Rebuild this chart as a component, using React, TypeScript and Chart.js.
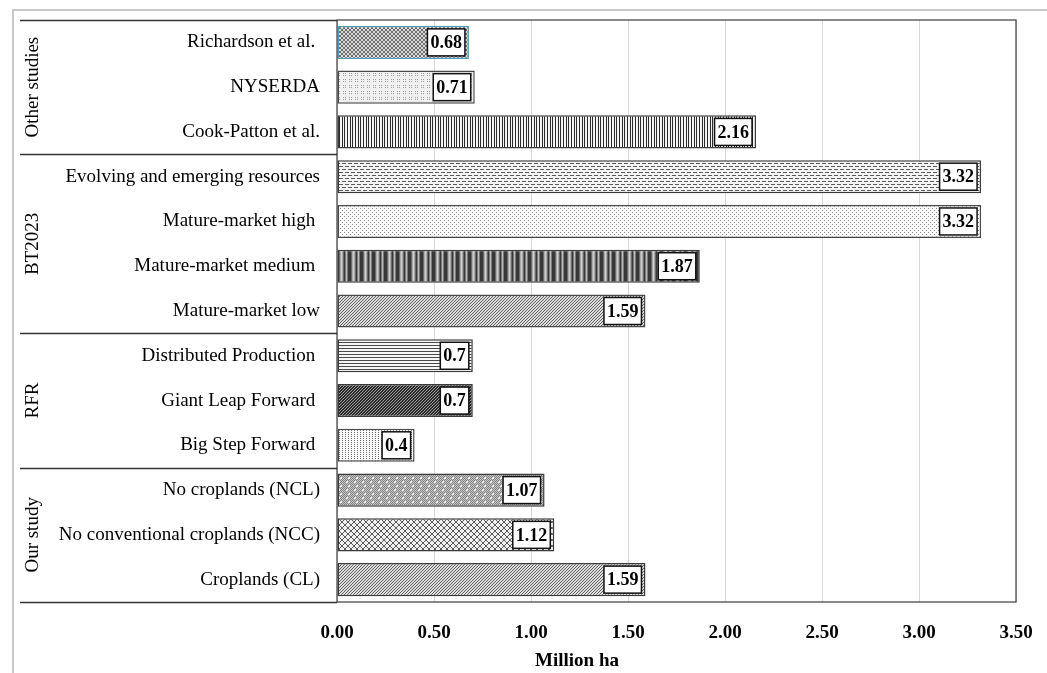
import React, { useEffect, useRef } from 'react';
import { Chart, registerables } from 'chart.js';

Chart.register(...registerables);

// ---------- data ----------
const categories = [
  'Richardson et al. ',
  'NYSERDA',
  'Cook-Patton et al.',
  'Evolving and emerging resources',
  'Mature-market high ',
  'Mature-market medium ',
  'Mature-market low',
  'Distributed Production ',
  'Giant Leap Forward ',
  'Big Step Forward ',
  'No croplands (NCL)',
  'No conventional croplands (NCC)',
  'Croplands (CL)',
];
const values = [0.68, 0.71, 2.16, 3.32, 3.32, 1.87, 1.59, 0.7, 0.7, 0.4, 1.07, 1.12, 1.59];
const valueLabels = ['0.68', '0.71', '2.16', '3.32', '3.32', '1.87', '1.59', '0.7', '0.7', '0.4', '1.07', '1.12', '1.59'];
const groupNames = ['Other studies', 'BT2023', 'RFR', 'Our study'];
const groupSizes = [3, 4, 3, 3];
const xTickLabels = ['0.00', '0.50', '1.00', '1.50', '2.00', '2.50', '3.00', '3.50'];
const axisTitle = 'Million ha';

// ---------- styles ----------
const FONT = "'Liberation Serif', 'DejaVu Serif', serif";

type PatDef = { rows: string[]; colors: Record<string, string> };

const diagFine: PatDef = {
  rows: ['..#', '.#.', '#..'],
  colors: { '#': '#666666', '.': '#dadada' },
};

const patternDefs: PatDef[] = [
  // Richardson - dense crosshatch
  { rows: ['#..#', '.##.', '.##.', '#..#'], colors: { '#': '#6c6c6c', '.': '#dadada' } },
  // NYSERDA - light dotted grid
  {
    rows: ['......', '.+.+..', '......', '.+.+..', '......', '......'],
    colors: { '+': '#a0a0a0', '.': '#f0f0f0' },
  },
  // Cook-Patton - vertical lines
  { rows: ['#..#..#.'], colors: { '#': '#2a2a2a', '.': '#f4f4f4' } },
  // Evolving - dashed horizontal
  {
    rows: ['......', '####..', '......', '......', '#..###', '......'],
    colors: { '#': '#5a5a5a', '.': '#f4f4f4' },
  },
  // Mature-market high - sparse dots
  { rows: ['+...', '....', '..+.', '....'], colors: { '+': '#8c8c8c', '.': '#fafafa' } },
  // Mature-market medium - wide vertical stripes
  {
    rows: ['aaabcdcbaefe'],
    colors: { a: '#383838', b: '#6a6a6a', c: '#a8a8a8', d: '#cfcfcf', e: '#7a7a7a', f: '#bdbdbd' },
  },
  // Mature-market low - fine diagonal
  diagFine,
  // Distributed production - horizontal lines
  { rows: ['#', '.', '.'], colors: { '#': '#4a4a4a', '.': '#f6f6f6' } },
  // Giant Leap Forward - dark diagonal
  { rows: ['.##', '##.', '#.#'], colors: { '#': '#2c2c2c', '.': '#9a9a9a' } },
  // Big Step Forward - light dots
  { rows: ['+..', '...'], colors: { '+': '#6a6a6a', '.': '#fafafa' } },
  // No croplands - gray with shapes
  {
    rows: ['abababab', 'babwbaba', 'abwwabab', 'babababa', 'abababab', 'bababwba', 'ababwwab', 'babababa'],
    colors: { a: '#858585', b: '#c4c4c4', w: '#f0f0f0' },
  },
  // No conventional croplands - lattice
  {
    rows: ['#....#', '.#..#.', '..##..', '..##..', '.#..#.', '#....#'],
    colors: { '#': '#5a5a5a', '.': '#f0f0f0' },
  },
  // Croplands - fine diagonal
  diagFine,
];

const borderColors = [
  '#4f9ab5', '#4a4a4a', '#3a3a3a', '#3a3a3a', '#4a4a4a', '#3a3a3a', '#4a4a4a',
  '#3a3a3a', '#3a3a3a', '#4a4a4a', '#3a3a3a', '#3a3a3a', '#3a3a3a',
];

function makePattern(ctx: CanvasRenderingContext2D, def: PatDef): CanvasPattern | string {
  const h = def.rows.length;
  const w = def.rows[0].length;
  const c = document.createElement('canvas');
  c.width = w;
  c.height = h;
  const t = c.getContext('2d');
  if (!t) return '#999';
  for (let y = 0; y < h; y++) {
    for (let x = 0; x < w; x++) {
      const ch = def.rows[y][x];
      t.fillStyle = def.colors[ch] || '#ffffff';
      t.fillRect(x, y, 1, 1);
    }
  }
  return ctx.createPattern(c, 'repeat') || '#999';
}

const overlayPlugin = {
  id: 'overlay',
  beforeDraw(chart: any) {
    const ctx = chart.ctx as CanvasRenderingContext2D;
    ctx.save();
    ctx.fillStyle = '#ffffff';
    ctx.fillRect(0, 0, chart.width, chart.height);
    ctx.strokeStyle = '#b8b8b8';
    ctx.lineWidth = 1.5;
    ctx.beginPath();
    ctx.moveTo(13, chart.height);
    ctx.lineTo(13, 10);
    ctx.lineTo(chart.width, 10);
    ctx.stroke();
    ctx.restore();
  },
  afterDatasetsDraw(chart: any) {
    const ctx = chart.ctx as CanvasRenderingContext2D;
    const ca = chart.chartArea;
    ctx.save();
    // plot border
    ctx.strokeStyle = '#3c3c3c';
    ctx.lineWidth = 1.2;
    ctx.strokeRect(ca.left, ca.top, ca.right - ca.left, ca.bottom - ca.top);

    // group separators & labels
    const rowH = (ca.bottom - ca.top) / categories.length;
    let start = 0;
    ctx.lineWidth = 1.3;
    ctx.strokeStyle = '#333';
    const bounds: number[] = [0];
    groupSizes.forEach((s) => bounds.push(bounds[bounds.length - 1] + s));
    bounds.forEach((b) => {
      const y = Math.round(ca.top + b * rowH) + 0.5;
      ctx.beginPath();
      ctx.moveTo(20, y);
      ctx.lineTo(ca.left, y);
      ctx.stroke();
    });
    ctx.fillStyle = '#000';
    ctx.font = `19px ${FONT}`;
    ctx.textAlign = 'center';
    ctx.textBaseline = 'middle';
    groupNames.forEach((g, i) => {
      const y0 = ca.top + start * rowH;
      const y1 = ca.top + (start + groupSizes[i]) * rowH;
      start += groupSizes[i];
      ctx.save();
      ctx.translate(33, (y0 + y1) / 2);
      ctx.rotate(-Math.PI / 2);
      ctx.fillText(g, 0, 0);
      ctx.restore();
    });

    // data labels
    const meta = chart.getDatasetMeta(0);
    ctx.font = `bold 18px ${FONT}`;
    meta.data.forEach((el: any, i: number) => {
      const txt = valueLabels[i];
      const tw = ctx.measureText(txt).width;
      const bw = tw + 6;
      const bh = 27;
      const right = el.x - 4;
      const left = right - bw;
      const top = el.y - bh / 2;
      ctx.fillStyle = '#ffffff';
      ctx.fillRect(left, top, bw, bh);
      ctx.strokeStyle = '#111';
      ctx.lineWidth = 1.5;
      ctx.strokeRect(left, top, bw, bh);
      ctx.fillStyle = '#000';
      ctx.textAlign = 'center';
      ctx.textBaseline = 'middle';
      ctx.fillText(txt, left + bw / 2, el.y + 1);
    });

    // axis title
    ctx.font = `bold 19px ${FONT}`;
    ctx.fillStyle = '#000';
    ctx.textAlign = 'center';
    ctx.textBaseline = 'middle';
    ctx.fillText(axisTitle, 577, 661);
    ctx.restore();
  },
};

export default function App() {
  const ref = useRef<HTMLCanvasElement | null>(null);
  useEffect(() => {
    const canvas = ref.current;
    if (!canvas) return;
    const ctx = canvas.getContext('2d') as CanvasRenderingContext2D;
    const patterns = patternDefs.map((d) => makePattern(ctx, d));
    const chart = new Chart(canvas, {
      type: 'bar',
      data: {
        labels: categories,
        datasets: [
          {
            data: values,
            backgroundColor: patterns as any,
            borderColor: borderColors,
            borderWidth: 1.5,
            borderSkipped: false,
            barPercentage: 0.74,
            categoryPercentage: 1,
          },
        ],
      },
      options: {
        indexAxis: 'y',
        animation: false,
        responsive: false,
        maintainAspectRatio: false,
        layout: { padding: { top: 20, right: 31, left: 0, bottom: 0 } },
        plugins: {
          legend: { display: false },
          tooltip: { enabled: false },
          title: { display: false },
        },
        scales: {
          x: {
            min: 0,
            max: 3.5,
            ticks: {
              stepSize: 0.5,
              color: '#000',
              font: { family: FONT, size: 19, weight: 'bold' },
              padding: 20,
              callback: (_v: any, i: number) => xTickLabels[i],
            },
            grid: { color: '#d9d9d9', drawTicks: false, lineWidth: 1 },
            border: { display: false },
            afterFit: (s: any) => {
              s.height = 71;
              s.paddingLeft = 0;
              s.paddingRight = 0;
            },
          },
          y: {
            ticks: {
              color: '#000',
              font: { family: FONT, size: 19 },
              padding: 17,
            },
            grid: { display: false, drawTicks: false },
            border: { display: false },
            afterFit: (s: any) => {
              s.width = 337;
              s.paddingTop = 0;
              s.paddingBottom = 0;
            },
          },
        },
      },
      plugins: [overlayPlugin],
    } as any);
    return () => chart.destroy();
  }, []);
  return (
    <div style={{ position: 'absolute', left: 0, top: 0, width: 1047, height: 673 }}>
      <canvas ref={ref} width={1047} height={673} style={{ display: 'block', width: 1047, height: 673 }} />
    </div>
  );
}
